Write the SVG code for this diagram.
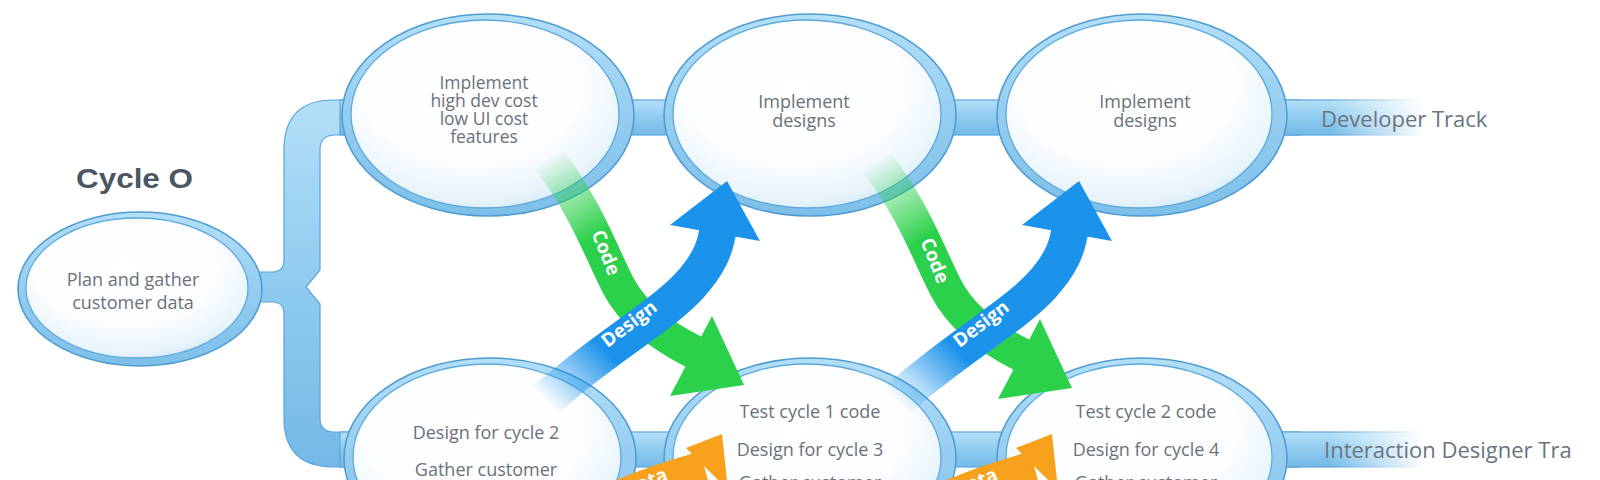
<svg xmlns="http://www.w3.org/2000/svg" width="1600" height="480" viewBox="0 0 1600 480">
<defs>
<style>
.ring{fill:url(#ringGrad);stroke:#4f9cd2;stroke-width:1.6}
.glass{fill:url(#glassGrad);stroke:#5ea9dc;stroke-width:1.3}
.bar{fill:url(#barGrad);stroke:#5aa6da;stroke-width:1.2}
.nt{font-family:"Open Sans","Noto Sans",sans-serif;font-size:18px;fill:#6b7279;text-anchor:middle}
.st{font-size:17.5px}
.tt{font-family:"Open Sans","Noto Sans",sans-serif;font-size:22px;fill:#6a7480}
.at{font-family:"Open Sans","Noto Sans",sans-serif;font-size:19px;font-weight:bold;fill:#ffffff;text-anchor:middle}
.title{font-family:"Liberation Sans",Arial,sans-serif;font-size:28px;font-weight:bold;fill:#4b5662}
</style>
<linearGradient id="ringGrad" x1="0" y1="0" x2="0" y2="1">
<stop offset="0" stop-color="#b3dff8"/><stop offset="0.5" stop-color="#95cdf0"/><stop offset="1" stop-color="#7dbfe9"/>
</linearGradient>
<radialGradient id="glassGrad" cx="0.45" cy="0.35" r="0.7">
<stop offset="0" stop-color="#ffffff"/><stop offset="0.6" stop-color="#fbfdff"/><stop offset="0.88" stop-color="#e6f3fb"/><stop offset="1" stop-color="#cbe6f7"/>
</radialGradient>
<linearGradient id="barGrad" x1="0" y1="0" x2="0" y2="1">
<stop offset="0" stop-color="#b4dff8"/><stop offset="0.5" stop-color="#8fcbef"/><stop offset="1" stop-color="#74b9e6"/>
</linearGradient>
<linearGradient id="fadeR" gradientUnits="userSpaceOnUse" x1="1330" y1="0" x2="1425" y2="0">
<stop offset="0" stop-color="#fff"/><stop offset="1" stop-color="#000"/>
</linearGradient>
<mask id="fadeMask" maskUnits="userSpaceOnUse" x="0" y="0" width="1600" height="480">
<rect x="0" y="0" width="1600" height="480" fill="url(#fadeR)"/>
</mask>
<linearGradient id="g1" gradientUnits="userSpaceOnUse" x1="548" y1="158" x2="598" y2="235">
<stop offset="0" stop-color="#2bd04b" stop-opacity="0"/><stop offset="1" stop-color="#2bd04b"/>
</linearGradient>
<linearGradient id="b1" gradientUnits="userSpaceOnUse" x1="545" y1="400" x2="600" y2="345">
<stop offset="0" stop-color="#1b93ea" stop-opacity="0"/><stop offset="1" stop-color="#1b93ea"/>
</linearGradient>
</defs>
<rect width="1600" height="480" fill="#ffffff"/>

<g id="connectors">
<path class="bar" d="M 360,100 L 334,100 Q 284,100 284,150 L 284,260 Q 284,272 272,272 L 250,272 L 250,302 L 272,302 Q 284,302 284,314 L 284,418 Q 284,467 334,467 L 360,467 L 360,432 L 334,432 Q 320,432 320,418 L 320,304 L 306,287 L 320,270 L 320,150 Q 320,135 335,135 L 360,135 Z"/>
<rect class="bar" x="340" y="100" width="960" height="35"/>
<rect class="bar" x="340" y="432" width="960" height="35"/>
<g mask="url(#fadeMask)">
<rect class="bar" x="1280" y="100" width="150" height="35" stroke="none"/>
<rect class="bar" x="1280" y="432" width="150" height="35" stroke="none"/>
</g>
</g>

<g id="cycle0">
<ellipse class="ring" cx="140" cy="289" rx="122" ry="77"/>
<ellipse class="glass" cx="137" cy="288" rx="111" ry="70"/>
<text class="nt" x="133" y="286">Plan and gather</text>
<text class="nt" x="133" y="309">customer data</text>
</g>
<text id="cycle0-title" class="title" x="76" y="188" textLength="117" lengthAdjust="spacingAndGlyphs">Cycle O</text>

<g id="dev1">
<ellipse class="ring" cx="488" cy="115" rx="146" ry="101"/>
<ellipse class="glass" cx="485" cy="114" rx="134" ry="94"/>
<text class="nt st" x="484" y="89">Implement</text>
<text class="nt st" x="484" y="107">high dev cost</text>
<text class="nt st" x="484" y="125">low UI cost</text>
<text class="nt st" x="484" y="143">features</text>
</g>
<g id="dev2">
<ellipse class="ring" cx="810" cy="115" rx="146" ry="101"/>
<ellipse class="glass" cx="807" cy="114" rx="134" ry="94"/>
<text class="nt" x="804" y="108">Implement</text>
<text class="nt" x="804" y="127">designs</text>
</g>
<g id="dev3">
<ellipse class="ring" cx="1142" cy="115" rx="145" ry="101"/>
<ellipse class="glass" cx="1139" cy="114" rx="133" ry="94"/>
<text class="nt" x="1145" y="108">Implement</text>
<text class="nt" x="1145" y="127">designs</text>
</g>
<g id="ixd1">
<ellipse class="ring" cx="490" cy="458" rx="146" ry="100"/>
<ellipse class="glass" cx="487" cy="457" rx="134" ry="93"/>
<text class="nt" x="486" y="439">Design for cycle 2</text>
<text class="nt" x="486" y="476">Gather customer</text>
</g>
<g id="ixd2">
<ellipse class="ring" cx="810" cy="458" rx="146" ry="100"/>
<ellipse class="glass" cx="807" cy="457" rx="134" ry="93"/>
<text class="nt" x="810" y="418">Test cycle 1 code</text>
<text class="nt" x="810" y="456">Design for cycle 3</text>
<text class="nt" x="810" y="489">Gather customer</text>
</g>
<g id="ixd3">
<ellipse class="ring" cx="1142" cy="458" rx="145" ry="100"/>
<ellipse class="glass" cx="1139" cy="457" rx="133" ry="93"/>
<text class="nt" x="1146" y="418">Test cycle 2 code</text>
<text class="nt" x="1146" y="456">Design for cycle 4</text>
<text class="nt" x="1146" y="489">Gather customer</text>
</g>

<g id="track-labels">
<text class="tt" x="1321" y="127">Developer Track</text>
<text class="tt" x="1324" y="458">Interaction Designer Tra</text>
</g>

<g id="flow-arrows">
<g id="code1">
<path d="M 546,156 C 585,205 600,250 618,285 C 632,312 660,335 694,352" fill="none" stroke="url(#g1)" stroke-width="34"/>
<polygon points="712,316 744,385 670,396" fill="#2bd04b"/>
</g>
<g id="code2" transform="translate(328,3)">
<path d="M 546,156 C 585,205 600,250 618,285 C 632,312 660,335 694,352" fill="none" stroke="url(#g1)" stroke-width="34"/>
<polygon points="712,316 744,385 670,396" fill="#2bd04b"/>
</g>
<g id="design1">
<path d="M 543,402 C 600,350 660,318 690,285 C 708,265 716,248 718,228" fill="none" stroke="url(#b1)" stroke-width="37"/>
<polygon points="727,181 670,225 760,241" fill="#1b93ea"/>
</g>
<g id="design2" transform="translate(352,0)">
<path d="M 543,402 C 600,350 660,318 690,285 C 708,265 716,248 718,228" fill="none" stroke="url(#b1)" stroke-width="37"/>
<polygon points="727,181 670,225 760,241" fill="#1b93ea"/>
</g>
<g id="data1">
<path d="M 560,525 C 610,495 660,478 704,466" fill="none" stroke="#f7a11c" stroke-width="30"/>
<polygon points="722,434 686,448 728,490" fill="#f7a11c"/>
</g>
<g id="data2" transform="translate(330,0)">
<path d="M 560,525 C 610,495 660,478 704,466" fill="none" stroke="#f7a11c" stroke-width="30"/>
<polygon points="722,434 686,448 728,490" fill="#f7a11c"/>
</g>
<text class="at" transform="translate(600,255) rotate(68)">Code</text>
<text class="at" transform="translate(929,263) rotate(68)">Code</text>
<text class="at" transform="translate(633,329) rotate(-37)">Design</text>
<text class="at" transform="translate(985,329) rotate(-37)">Design</text>
<text class="at" transform="translate(648,488) rotate(-22)">Data</text>
<text class="at" transform="translate(978,488) rotate(-22)">Data</text>
</g>
</svg>
